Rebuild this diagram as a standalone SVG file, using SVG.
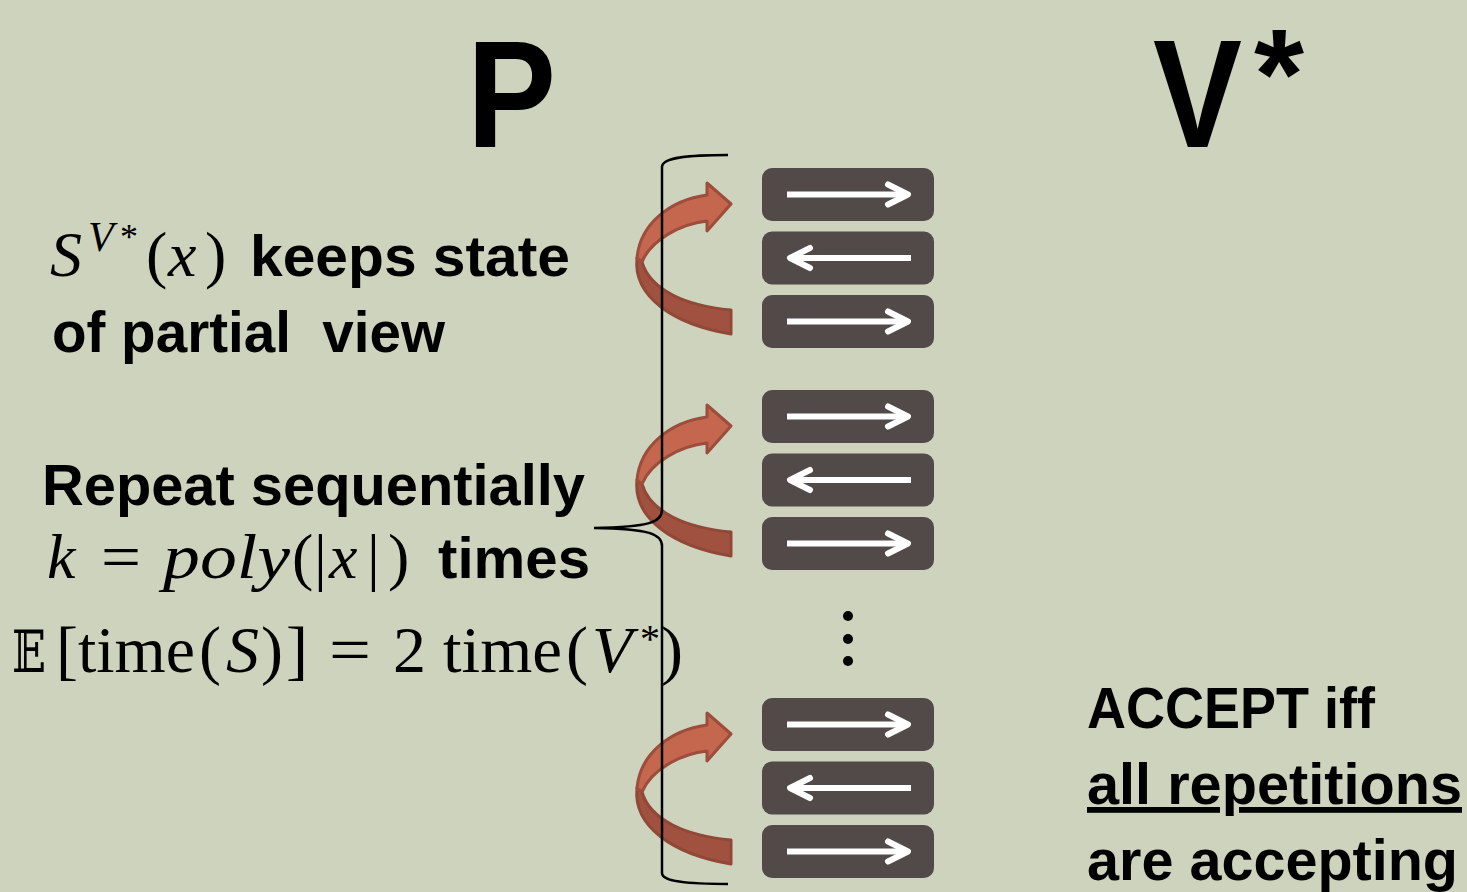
<svg xmlns="http://www.w3.org/2000/svg" xmlns:xlink="http://www.w3.org/1999/xlink" width="1467" height="892" viewBox="0 0 1467 892">
<style>
.sans{font-family:"Liberation Sans",Arial,sans-serif;font-weight:bold;fill:#000}
.ser{font-family:"Liberation Serif","DejaVu Serif",serif;fill:#000}
.it{font-style:italic}
.box{fill:#524949}
.wl{stroke:#fff;stroke-width:6;fill:none}
.wh{stroke:#fff;stroke-width:6;fill:none;stroke-linecap:round;stroke-linejoin:round}
.light{fill:#C4674E;stroke:#9C4D3B;stroke-width:3;stroke-linejoin:round}
.dark{fill:#A1513F;stroke:#914837;stroke-width:3;stroke-linejoin:round}
.brace{fill:none;stroke:#000;stroke-width:2.5}
</style>
<defs>
<g id="bR"><rect class="box" x="762" y="0" width="172" height="53" rx="10"/><line class="wl" x1="787" y1="26.5" x2="907" y2="26.5"/><polyline class="wh" points="888,16.5 908,26.5 888,36.5"/></g>
<g id="bL"><rect class="box" x="762" y="0" width="172" height="53" rx="10"/><line class="wl" x1="791" y1="26.5" x2="911" y2="26.5"/><polyline class="wh" points="810,16.5 790,26.5 810,36.5"/></g>
<g id="curl">
<path class="dark" d="M637,258 C633,296 672,324 731,334 L731,310 C686,306 650,290 642,262 Z"/>
<path class="light" d="M637,258 C640,224 670,200 707,195 L707,183 L731,204 L707,231 L707,221 C680,224 651,240 642,262 Z"/>
</g>
</defs>
<rect width="1467" height="892" fill="#CDD3BC"/>

<g id="title-P"><text class="sans" x="467" y="147" font-size="153" textLength="89" lengthAdjust="spacingAndGlyphs">P</text></g>
<g id="title-V"><text class="sans" x="1153" y="147" font-size="154" textLength="89" lengthAdjust="spacingAndGlyphs">V</text><text class="sans" x="1254" y="118" font-size="128" textLength="50" lengthAdjust="spacingAndGlyphs">*</text></g>

<g id="rep1">
<use xlink:href="#curl"/>
<use xlink:href="#bR" y="168"/>
<use xlink:href="#bL" y="231.5"/>
<use xlink:href="#bR" y="295"/>
</g>
<g id="rep2" transform="translate(0,222)">
<use xlink:href="#curl"/>
<use xlink:href="#bR" y="168"/>
<use xlink:href="#bL" y="231.5"/>
<use xlink:href="#bR" y="295"/>
</g>
<g id="rep3" transform="translate(0,530)">
<use xlink:href="#curl"/>
<use xlink:href="#bR" y="168"/>
<use xlink:href="#bL" y="231.5"/>
<use xlink:href="#bR" y="295"/>
</g>

<g id="dots"><circle cx="848" cy="616" r="5"/><circle cx="848" cy="639" r="5"/><circle cx="848" cy="661" r="5"/></g>

<g id="connectors">
<path class="brace" d="M728,155 C690,155 662,157 662,167 L662,510 C662,522 650,527 594,528 C650,529 662,534 662,546 L662,873 C662,882 690,884 728,884"/>
</g>

<g id="text-state">
<text class="ser it" x="50" y="276" font-size="64">S</text>
<text class="ser it" x="88" y="251" font-size="42">V</text>
<text class="ser" x="120" y="249" font-size="36">*</text>
<text class="ser" x="146" y="276" font-size="64">(</text>
<text class="ser it" x="168" y="276" font-size="64">x</text>
<text class="ser" x="205" y="276" font-size="64">)</text>
<text class="sans" x="250" y="276" font-size="58" textLength="320" lengthAdjust="spacingAndGlyphs">keeps state</text>
<text class="sans" x="52" y="352" font-size="58" xml:space="preserve" textLength="393" lengthAdjust="spacingAndGlyphs">of partial  view</text>
</g>

<g id="text-repeat">
<text class="sans" x="42" y="505" font-size="58" textLength="543" lengthAdjust="spacingAndGlyphs">Repeat sequentially</text>
<text class="ser it" x="47" y="578" font-size="64">k</text>
<text class="ser" x="101" y="578" font-size="64" textLength="40" lengthAdjust="spacingAndGlyphs">=</text>
<text class="ser it" x="163" y="578" font-size="64" textLength="127" lengthAdjust="spacingAndGlyphs">poly</text>
<text class="ser" x="292" y="578" font-size="64">(</text>
<text class="ser" x="314" y="578" font-size="64">|</text>
<text class="ser it" x="329" y="578" font-size="64">x</text>
<text class="ser" x="367" y="578" font-size="64">|</text>
<text class="ser" x="388" y="578" font-size="64">)</text>
<text class="sans" x="438" y="578" font-size="58" textLength="152" lengthAdjust="spacingAndGlyphs">times</text>
</g>

<g id="text-expect">
<text x="12" y="672" font-size="58" font-family="'DejaVu Serif',serif" textLength="34" lengthAdjust="spacingAndGlyphs">𝔼</text>
<text class="ser" x="56" y="672" font-size="66">[</text>
<text class="ser" x="78" y="672" font-size="66" textLength="117" lengthAdjust="spacingAndGlyphs">time</text>
<text class="ser" x="199" y="672" font-size="66">(</text>
<text class="ser it" x="226" y="672" font-size="66">S</text>
<text class="ser" x="261" y="672" font-size="66">)</text>
<text class="ser" x="286" y="672" font-size="66">]</text>
<text class="ser" x="329" y="672" font-size="66" textLength="42" lengthAdjust="spacingAndGlyphs">=</text>
<text class="ser" x="393" y="672" font-size="66">2</text>
<text class="ser" x="443" y="672" font-size="66" textLength="119" lengthAdjust="spacingAndGlyphs">time</text>
<text class="ser" x="566" y="672" font-size="66">(</text>
<text class="ser it" x="592" y="672" font-size="66">V</text>
<text class="ser" x="640" y="652" font-size="40">*</text>
<text class="ser" x="661" y="672" font-size="66">)</text>
</g>

<g id="text-accept">
<text class="sans" x="1087" y="728" font-size="58" textLength="288" lengthAdjust="spacingAndGlyphs">ACCEPT iff</text>
<text class="sans" x="1087" y="804" font-size="58" textLength="375" lengthAdjust="spacingAndGlyphs" text-decoration="underline">all repetitions</text>
<text class="sans" x="1087" y="880" font-size="58" textLength="371" lengthAdjust="spacingAndGlyphs">are accepting</text>
</g>
</svg>
